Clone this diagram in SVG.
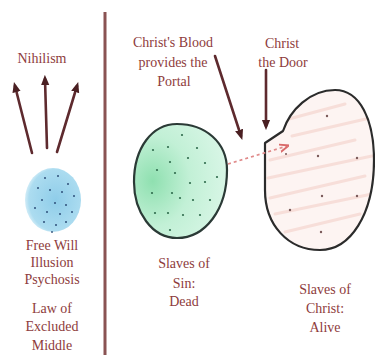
<svg xmlns="http://www.w3.org/2000/svg" width="375" height="355" viewBox="0 0 375 355">
  <style>
    text { font-family: "Liberation Serif", "Times New Roman", Times, "DejaVu Serif", serif; }
    .lbl { font-size: 14px; fill: #8e3c3c; text-anchor: middle; }
    .conn { stroke: #5e2a2e; stroke-width: 2.6; fill: none; stroke-linecap: round; }
    .gdot { fill: #2f6b4d; }
    .pdot { fill: #7a5a5a; }
    .bdot { fill: #2e4f7a; }
    .streak { stroke: #f4cfc8; stroke-width: 3; stroke-linecap: round; opacity: 0.6; }
  </style>
  <defs>
    <marker id="ah" viewBox="0 0 10 10" refX="6" refY="5" markerWidth="4" markerHeight="4" orient="auto">
      <path d="M0,1 L10,5 L0,9 Z" fill="#4a1f22"/>
    </marker>
    <marker id="ahr" viewBox="0 0 10 10" refX="8" refY="5" markerWidth="6" markerHeight="6" orient="auto">
      <path d="M0,1 L10,5 L0,9" fill="none" stroke="#d96a6a" stroke-width="2"/>
    </marker>
    <radialGradient id="gfill" cx="0.2" cy="0.5" r="0.8">
      <stop offset="0" stop-color="#8fe0b0"/>
      <stop offset="0.5" stop-color="#c2f0d6"/>
      <stop offset="1" stop-color="#d8f6e6"/>
    </radialGradient>
    <radialGradient id="bfill" cx="0.55" cy="0.5" r="0.6">
      <stop offset="0" stop-color="#8fcde9"/>
      <stop offset="0.8" stop-color="#acdcf0"/>
      <stop offset="1" stop-color="#d4eef8" stop-opacity="0.6"/>
    </radialGradient>
    <clipPath id="rclip">
      <path d="M265,143 L283,131 C290,110 310,90 335,90 C360,90 374,120 374,160 C374,215 350,250 320,250 C288,250 265,225 265,190 Z"/>
    </clipPath>
  </defs>

  <rect width="375" height="355" fill="#ffffff"/>

  <g id="divider">
    <line x1="105" y1="12" x2="105" y2="355" stroke="#8a5353" stroke-width="3"/>
  </g>

  <g id="nihilism">
    <text class="lbl" font-family="Liberation Serif, serif" x="42" y="63">Nihilism</text>
  </g>

  <g id="free-will">
    <ellipse cx="53" cy="200" rx="28" ry="32" fill="url(#bfill)"/>
    <g class="bdot">
      <circle cx="45" cy="178" r="1"/><circle cx="58" cy="176" r="1"/><circle cx="68" cy="184" r="1"/>
      <circle cx="38" cy="188" r="1"/><circle cx="50" cy="190" r="1"/><circle cx="62" cy="192" r="1"/>
      <circle cx="74" cy="196" r="1"/><circle cx="42" cy="200" r="1"/><circle cx="55" cy="203" r="1"/>
      <circle cx="66" cy="205" r="1"/><circle cx="35" cy="208" r="1"/><circle cx="47" cy="212" r="1"/>
      <circle cx="60" cy="214" r="1"/><circle cx="72" cy="212" r="1"/><circle cx="44" cy="222" r="1"/>
      <circle cx="56" cy="225" r="1"/><circle cx="66" cy="222" r="1"/><circle cx="52" cy="232" r="0.9"/>
    </g>
    <text class="lbl" x="52" y="250">Free Will</text>
    <text class="lbl" x="52" y="267">Illusion</text>
    <text class="lbl" x="52" y="284">Psychosis</text>
    <text class="lbl" x="52" y="313">Law of</text>
    <text class="lbl" x="52" y="331">Excluded</text>
    <text class="lbl" x="52" y="350">Middle</text>
  </g>

  <g id="slaves-of-sin">
    <path d="M177,124 C205,124 227,142 227,170 C227,210 205,238 177,238 C152,238 134,212 134,182 C134,148 152,124 177,124 Z" fill="url(#gfill)" stroke="#2b3a36" stroke-width="2.2"/>
    <g class="gdot">
      <circle cx="182" cy="135" r="1.1"/><circle cx="168" cy="147" r="1.1"/><circle cx="153" cy="150" r="1.1"/>
      <circle cx="197" cy="148" r="1.1"/><circle cx="170" cy="162" r="1.1"/><circle cx="188" cy="158" r="1.1"/>
      <circle cx="205" cy="163" r="1.1"/><circle cx="157" cy="170" r="1.1"/><circle cx="175" cy="173" r="1.1"/>
      <circle cx="217" cy="177" r="1.1"/><circle cx="190" cy="183" r="1.1"/><circle cx="205" cy="182" r="1.1"/>
      <circle cx="152" cy="193" r="1.1"/><circle cx="172" cy="193" r="1.1"/><circle cx="180" cy="198" r="1.1"/>
      <circle cx="193" cy="200" r="1.1"/><circle cx="210" cy="200" r="1.1"/><circle cx="155" cy="213" r="1.1"/>
      <circle cx="168" cy="213" r="1.1"/><circle cx="183" cy="215" r="1.1"/><circle cx="200" cy="215" r="1.1"/>
      <circle cx="170" cy="230" r="1.1"/>
    </g>
    <text class="lbl" x="184" y="268">Slaves of</text>
    <text class="lbl" x="184" y="288">Sin:</text>
    <text class="lbl" x="184" y="306">Dead</text>
  </g>

  <g id="slaves-of-christ">
    <path d="M265,143 L283,131 C290,110 310,90 335,90 C360,90 374,120 374,160 C374,215 350,250 320,250 C288,250 265,225 265,190 Z" fill="#fdf4f2"/>
    <g clip-path="url(#rclip)">
      <line class="streak" x1="285" y1="120" x2="345" y2="104"/>
      <line class="streak" x1="292" y1="136" x2="370" y2="118"/>
      <line class="streak" x1="270" y1="160" x2="355" y2="140"/>
      <line class="streak" x1="268" y1="178" x2="372" y2="156"/>
      <line class="streak" x1="270" y1="198" x2="365" y2="176"/>
      <line class="streak" x1="275" y1="214" x2="372" y2="194"/>
      <line class="streak" x1="285" y1="232" x2="360" y2="214"/>
    </g>
    <path d="M265,143 L283,131 C290,110 310,90 335,90 C360,90 374,120 374,160 C374,215 350,250 320,250 C288,250 265,225 265,190 Z" fill="none" stroke="#2b2b2b" stroke-width="2.2" stroke-linejoin="round"/>
    <g class="pdot">
      <circle cx="327" cy="116" r="1.2"/><circle cx="318" cy="156" r="1.2"/><circle cx="357" cy="158" r="1.2"/>
      <circle cx="322" cy="196" r="1.2"/><circle cx="357" cy="196" r="1.2"/><circle cx="290" cy="210" r="1.2"/>
      <circle cx="321" cy="232" r="1.2"/><circle cx="286" cy="154" r="1"/>
    </g>
    <text class="lbl" x="325" y="294">Slaves of</text>
    <text class="lbl" x="325" y="313">Christ:</text>
    <text class="lbl" x="325" y="332">Alive</text>
  </g>

  <g id="blood-label">
    <text class="lbl" x="173" y="47">Christ's Blood</text>
    <text class="lbl" x="173" y="67">provides the</text>
    <text class="lbl" x="174" y="86">Portal</text>
  </g>

  <g id="door-label">
    <text class="lbl" x="282" y="48">Christ</text>
    <text class="lbl" x="283" y="67">the Door</text>
  </g>

  <g id="connectors">
    <line class="conn" x1="32" y1="153" x2="15" y2="86" marker-end="url(#ah)"/>
    <line class="conn" x1="47" y1="148" x2="45" y2="79" marker-end="url(#ah)"/>
    <line class="conn" x1="57" y1="152" x2="77" y2="86" marker-end="url(#ah)"/>
    <line class="conn" x1="215" y1="56" x2="241" y2="136" marker-end="url(#ah)"/>
    <line class="conn" x1="266" y1="70" x2="266" y2="126" marker-end="url(#ah)"/>
    <line x1="228" y1="164" x2="287" y2="146" stroke="#e08a8a" stroke-width="1.6" stroke-dasharray="3,3" marker-end="url(#ahr)"/>
  </g>
</svg>
